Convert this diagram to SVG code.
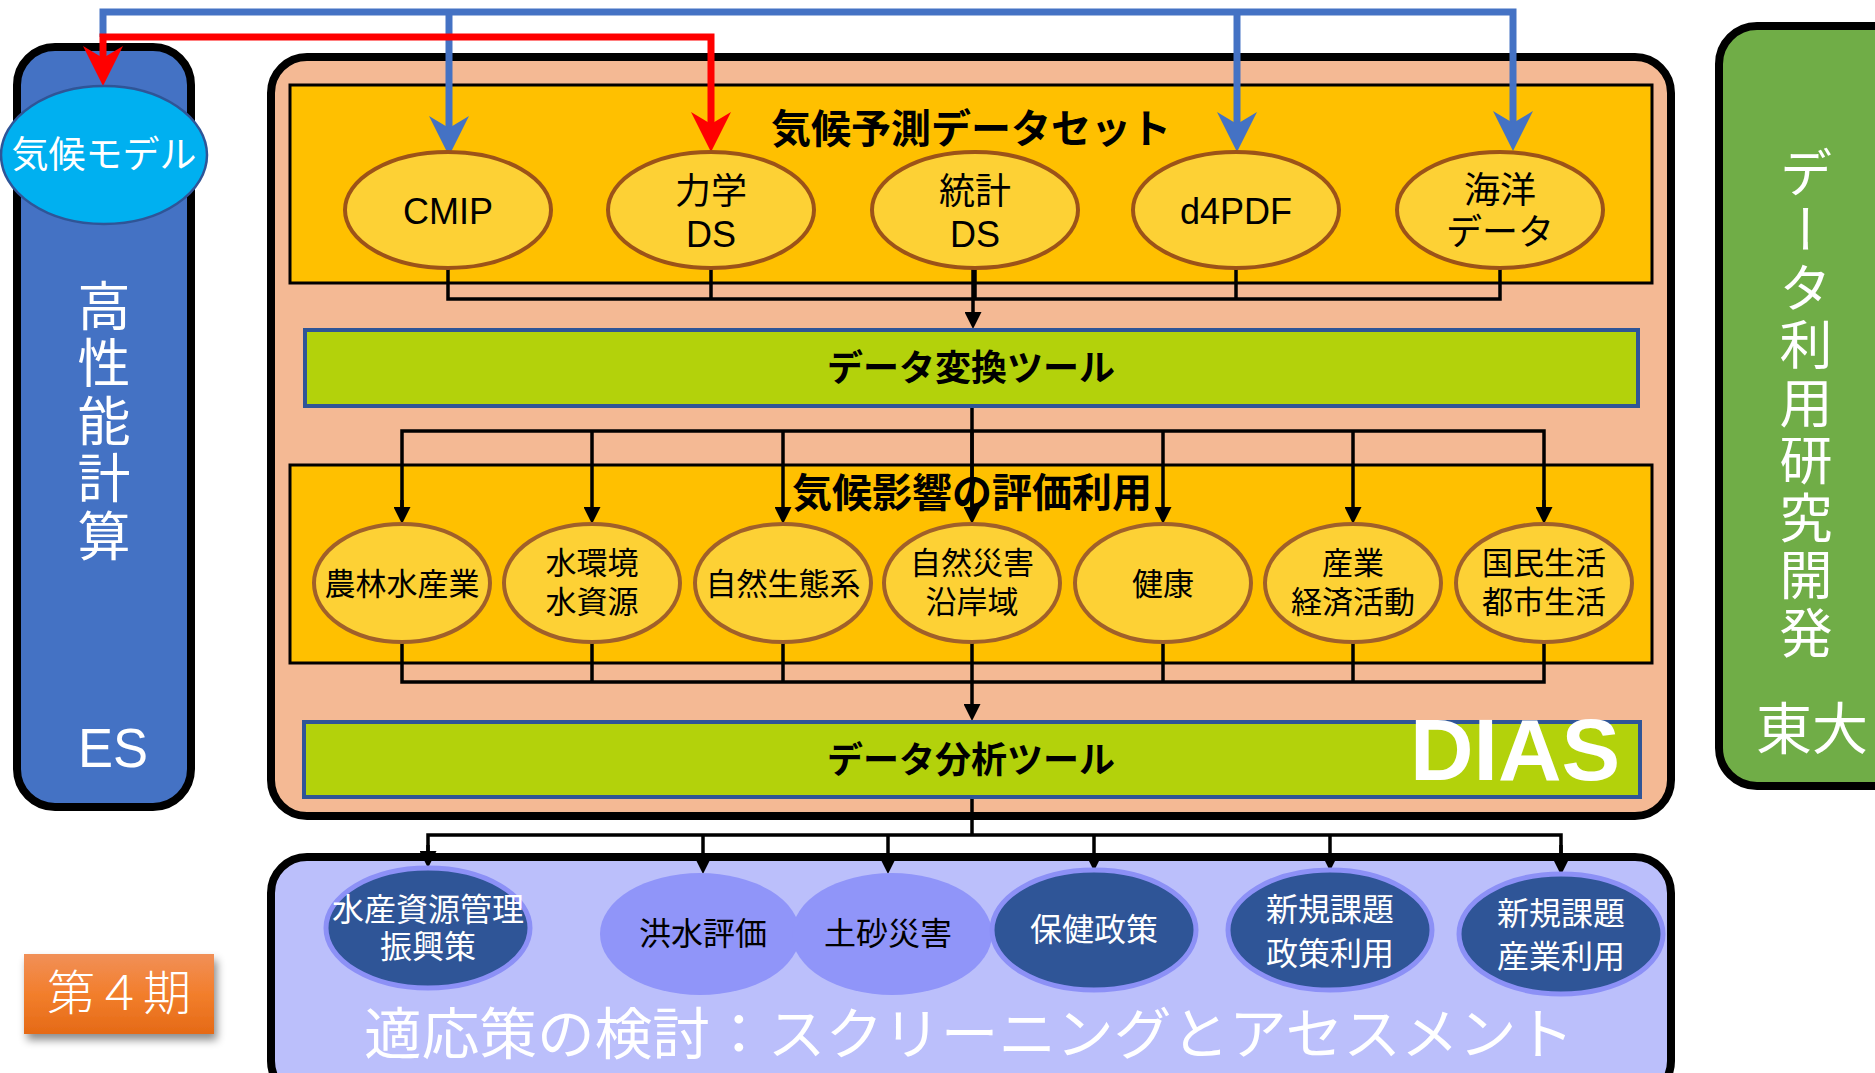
<svg xmlns="http://www.w3.org/2000/svg" width="1875" height="1073" viewBox="0 0 1875 1073">
<style>
.jp{font-family:"Noto Sans CJK JP","Noto Sans CJK SC",sans-serif}
.lat{font-family:"Liberation Sans","Noto Sans CJK JP",sans-serif}
.box{stroke:#000;stroke-width:8}
.panel{fill:#FFC000;stroke:#000;stroke-width:3}
.bar{fill:#B3D20B;stroke:#2F5597;stroke-width:4}
.e1{fill:#FDD135;stroke:#9C5318;stroke-width:4}
.e2{fill:#FDD135;stroke:#A0602A;stroke-width:4}
.ed{fill:#2F5597;stroke:#8C90F6;stroke-width:5}
.el{fill:#9095F9}
.t1{font-size:36px;fill:#000;text-anchor:middle}
.t2{font-size:31px;fill:#000;text-anchor:middle}
.tw{font-size:32px;fill:#fff;text-anchor:middle}
.conn{fill:none;stroke:#000;stroke-width:3.5}
.blue{fill:none;stroke:#4472C4;stroke-width:7}
.red{fill:none;stroke:#FF0000;stroke-width:7}
.vt{writing-mode:vertical-rl;fill:#fff;font-size:53px;letter-spacing:4.5px}
</style>
<defs>
<marker id="mb" markerUnits="userSpaceOnUse" markerWidth="40" markerHeight="40" viewBox="0 0 40 40" refX="15" refY="20" orient="auto">
<path d="M0,0 L40,20 L0,40 L12,20 z" fill="#4472C4"/>
</marker>
<marker id="mr" markerUnits="userSpaceOnUse" markerWidth="40" markerHeight="40" viewBox="0 0 40 40" refX="15" refY="20" orient="auto-start-reverse">
<path d="M0,0 L40,20 L0,40 L12,20 z" fill="#FF0000"/>
</marker>
<marker id="mk" markerUnits="userSpaceOnUse" markerWidth="17" markerHeight="17" viewBox="0 0 17 17" refX="7" refY="8.5" orient="auto">
<path d="M0,0 L17,8.5 L0,17 z" fill="#000"/>
</marker>
<linearGradient id="og" x1="0" y1="0" x2="0" y2="1">
<stop offset="0" stop-color="#F19058"/>
<stop offset="0.5" stop-color="#F27E2C"/>
<stop offset="1" stop-color="#E56A16"/>
</linearGradient>
<filter id="sh" x="-20%" y="-20%" width="150%" height="160%">
<feDropShadow dx="3" dy="6" stdDeviation="4" flood-color="#000" flood-opacity="0.45"/>
</filter>
</defs>

<g id="hpc">
<rect class="box" x="17" y="47" width="174" height="760" rx="38" fill="#4472C4"/>
<text class="jp vt" x="104" y="279">高性能計算</text>
<text class="lat" x="113" y="767" font-size="56" fill="#fff" text-anchor="middle" textLength="70" lengthAdjust="spacingAndGlyphs">ES</text>
</g>

<g id="dias">
<rect class="box" x="271" y="57" width="1400" height="759" rx="36" fill="#F4B994"/>
</g>

<g id="dataset-panel">
<rect class="panel" x="290" y="85" width="1362" height="198"/>
<text class="jp" x="971" y="143" font-size="40" font-weight="bold" text-anchor="middle">気候予測データセット</text>
</g>

<g id="impact-panel">
<rect class="panel" x="290" y="465" width="1362" height="198"/>
<text class="jp" x="972" y="507" font-size="40" font-weight="bold" text-anchor="middle">気候影響の評価利用</text>
</g>

<g id="adapt">
<rect class="box" x="271" y="857" width="1400" height="240" rx="36" fill="#BBBFFB"/>
<text class="jp" x="364" y="1054" font-size="56" fill="#fff" textLength="1210" lengthAdjust="spacingAndGlyphs">適応策の検討：スクリーニングとアセスメント</text>
</g>

<g id="utokyo">
<rect class="box" x="1719" y="26" width="200" height="760" rx="38" fill="#70AD47"/>
<text class="jp vt" x="1806" y="146">データ利用研究開発</text>
<text class="jp" x="1812" y="749" font-size="56" fill="#fff" text-anchor="middle">東大</text>
</g>

<g id="connectors">
<path class="blue" d="M103,37 V12 H1513 V126" marker-end="url(#mb)"/>
<path class="blue" d="M449,12 V131" marker-end="url(#mb)"/>
<path class="blue" d="M1237,12 V127" marker-end="url(#mb)"/>
<path class="red" d="M103,61 V37 H711 V127" marker-start="url(#mr)" marker-end="url(#mr)"/>
<path class="conn" d="M448,268 V299 H1500 V268 M711,268 V299 M975,268 V299 M1236,268 V299"/>
<path class="conn" d="M973,268 V319" marker-end="url(#mk)"/>
<path class="conn" d="M402,514 V431 H1544 V514 M972,407 V514"/>
<path class="conn" d="M592,431 V514" marker-end="url(#mk)"/>
<path class="conn" d="M783,431 V514" marker-end="url(#mk)"/>
<path class="conn" d="M972,431 V514" marker-end="url(#mk)"/>
<path class="conn" d="M1163,431 V514" marker-end="url(#mk)"/>
<path class="conn" d="M1353,431 V514" marker-end="url(#mk)"/>
<path class="conn" d="M402,500 V514" marker-end="url(#mk)"/>
<path class="conn" d="M1544,500 V514" marker-end="url(#mk)"/>
<path class="conn" d="M402,642 V682 H1544 V642 M592,642 V682 M783,642 V682 M972,642 V682 M1163,642 V682 M1353,642 V682"/>
<path class="conn" d="M972,682 V711" marker-end="url(#mk)"/>
<path class="conn" d="M972,798 V835 M428,858 V835 H1561 V861"/>
<path class="conn" d="M428,845 V858" marker-end="url(#mk)"/>
<path class="conn" d="M703,835 V864" marker-end="url(#mk)"/>
<path class="conn" d="M888,835 V864" marker-end="url(#mk)"/>
<path class="conn" d="M1094,835 V861" marker-end="url(#mk)"/>
<path class="conn" d="M1330,835 V861" marker-end="url(#mk)"/>
<path class="conn" d="M1561,845 V865" marker-end="url(#mk)"/>
</g>

<g id="climate-model">
<ellipse cx="104" cy="155" rx="103" ry="69" fill="#00B0F0" stroke="#2F5597" stroke-width="2.5"/>
<text class="jp" x="104" y="168" font-size="37" fill="#fff" text-anchor="middle">気候モデル</text>
</g>

<g id="cmip">
<ellipse class="e1" cx="448" cy="210" rx="103" ry="58"/>
<text class="lat t1" x="448" y="224">CMIP</text>
</g>
<g id="dyn-ds">
<ellipse class="e1" cx="711" cy="210" rx="103" ry="58"/>
<text class="jp t1" x="711" y="204">力学<tspan class="lat" x="711" y="247">DS</tspan></text>
</g>
<g id="stat-ds">
<ellipse class="e1" cx="975" cy="210" rx="103" ry="58"/>
<text class="jp t1" x="975" y="204">統計<tspan class="lat" x="975" y="247">DS</tspan></text>
</g>
<g id="d4pdf">
<ellipse class="e1" cx="1236" cy="210" rx="103" ry="58"/>
<text class="lat t1" x="1236" y="224">d4PDF</text>
</g>
<g id="ocean">
<ellipse class="e1" cx="1500" cy="210" rx="103" ry="58"/>
<text class="jp t1" x="1500" y="203">海洋<tspan x="1500" y="245">データ</tspan></text>
</g>

<g id="convert-tool">
<rect class="bar" x="305" y="330" width="1333" height="76"/>
<text class="jp" x="971" y="381" font-size="36" font-weight="bold" text-anchor="middle">データ変換ツール</text>
</g>

<g id="agri">
<ellipse class="e2" cx="402" cy="583" rx="88" ry="59"/>
<text class="jp t2" x="402" y="595">農林水産業</text>
</g>
<g id="water">
<ellipse class="e2" cx="592" cy="583" rx="88" ry="59"/>
<text class="jp t2" x="592" y="574">水環境<tspan x="592" y="613">水資源</tspan></text>
</g>
<g id="eco">
<ellipse class="e2" cx="783" cy="583" rx="88" ry="59"/>
<text class="jp t2" x="783" y="595">自然生態系</text>
</g>
<g id="disaster">
<ellipse class="e2" cx="972" cy="583" rx="88" ry="59"/>
<text class="jp t2" x="972" y="574">自然災害<tspan x="972" y="613">沿岸域</tspan></text>
</g>
<g id="health">
<ellipse class="e2" cx="1163" cy="583" rx="88" ry="59"/>
<text class="jp t2" x="1163" y="595">健康</text>
</g>
<g id="industry">
<ellipse class="e2" cx="1353" cy="583" rx="88" ry="59"/>
<text class="jp t2" x="1353" y="574">産業<tspan x="1353" y="613">経済活動</tspan></text>
</g>
<g id="life">
<ellipse class="e2" cx="1544" cy="583" rx="88" ry="59"/>
<text class="jp t2" x="1544" y="574">国民生活<tspan x="1544" y="613">都市生活</tspan></text>
</g>

<g id="analysis-tool">
<rect class="bar" x="304" y="722" width="1336" height="75"/>
<text class="jp" x="971" y="773" font-size="36" font-weight="bold" text-anchor="middle">データ分析ツール</text>
<text class="lat" x="1410" y="780" font-size="88" font-weight="bold" fill="#fff">DIAS</text>
</g>

<g id="fishery">
<ellipse class="ed" cx="428" cy="928" rx="102" ry="60"/>
<text class="jp tw" x="428" y="921">水産資源管理<tspan x="428" y="958">振興策</tspan></text>
</g>
<g id="flood">
<ellipse class="el" cx="700" cy="934" rx="100" ry="61"/>
<text class="jp" x="703" y="945" font-size="32" text-anchor="middle">洪水評価</text>
</g>
<g id="sediment">
<ellipse class="el" cx="892" cy="934" rx="100" ry="61"/>
<text class="jp" x="888" y="945" font-size="32" text-anchor="middle">土砂災害</text>
</g>
<g id="health-policy">
<ellipse class="ed" cx="1094" cy="930" rx="102" ry="60"/>
<text class="jp tw" x="1094" y="941">保健政策</text>
</g>
<g id="new-policy">
<ellipse class="ed" cx="1330" cy="930" rx="102" ry="60"/>
<text class="jp tw" x="1330" y="921" font-size="36px">新規課題<tspan x="1330" y="965">政策利用</tspan></text>
</g>
<g id="new-industry">
<ellipse class="ed" cx="1561" cy="934" rx="102" ry="60"/>
<text class="jp tw" x="1561" y="925" font-size="36px">新規課題<tspan x="1561" y="968">産業利用</tspan></text>
</g>

<g id="phase4">
<rect x="24" y="954" width="190" height="80" fill="url(#og)" filter="url(#sh)"/>
<text class="jp" x="119" y="1010" font-size="48" font-weight="300" fill="#fff" text-anchor="middle">第４期</text>
</g>
</svg>
